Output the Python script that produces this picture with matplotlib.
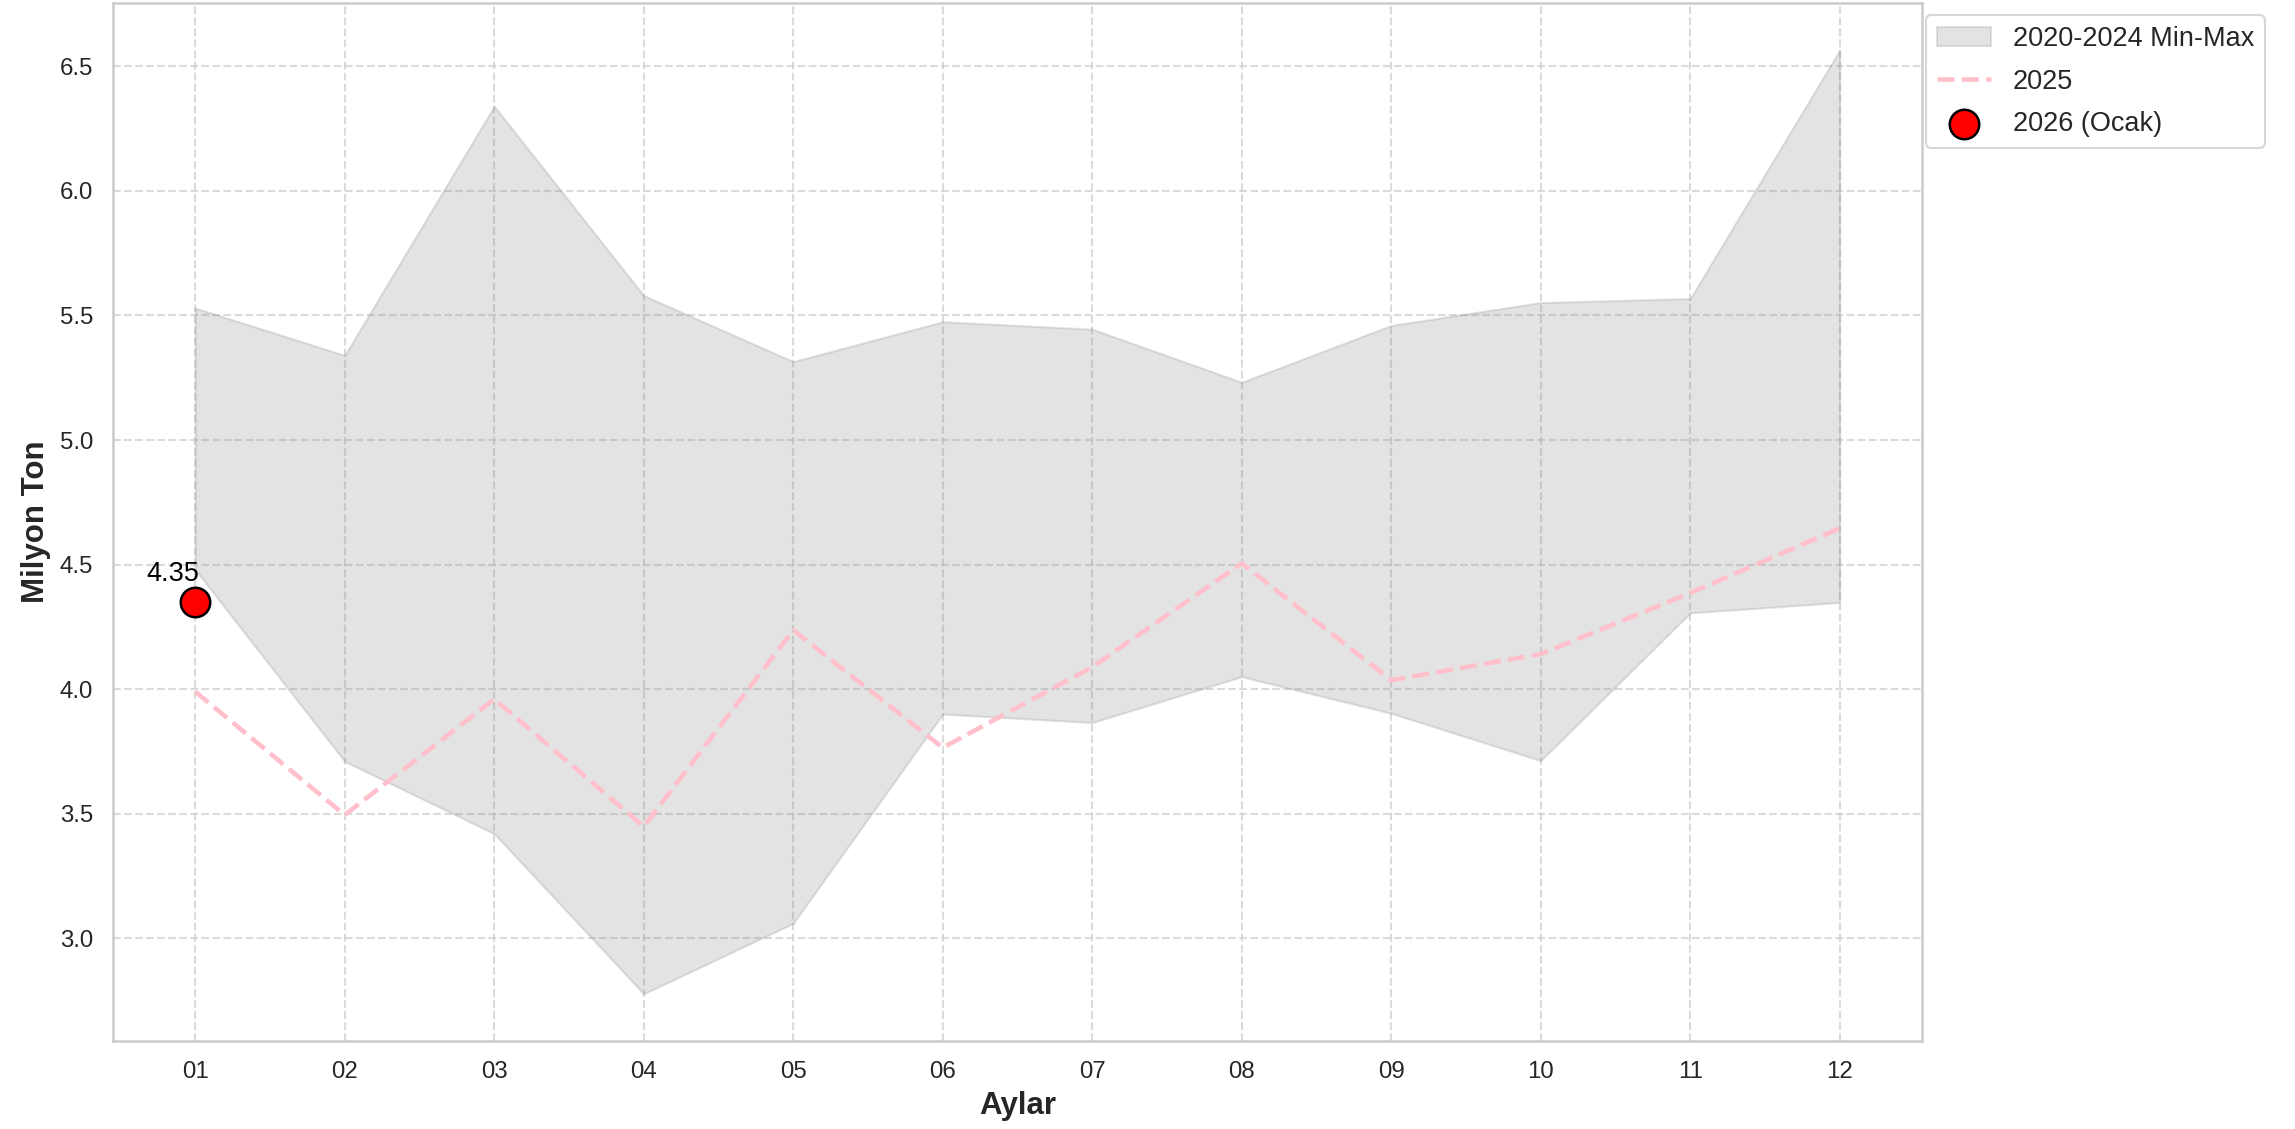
import numpy as np
import matplotlib
matplotlib.use("Agg")
import matplotlib.pyplot as plt
import seaborn as sns

months = ["01", "02", "03", "04", "05", "06", "07", "08", "09", "10", "11", "12"]
band_max = [5.53, 5.34, 6.34, 5.58, 5.315, 5.475, 5.445, 5.232, 5.46, 5.552, 5.568, 6.565]
band_min = [4.48, 3.71, 3.42, 2.777, 3.06, 3.90, 3.866, 4.05, 3.903, 3.713, 4.306, 4.348]
line_2025 = [3.99, 3.495, 3.96, 3.449, 4.237, 3.765, 4.089, 4.505, 4.036, 4.141, 4.386, 4.646]
val_2026 = [4.35]

sns.set_theme(style="whitegrid")
plt.rcParams["font.family"] = ["Liberation Sans", "DejaVu Sans"]

fig = plt.figure(figsize=(2295 / 150, 1129 / 150), dpi=150)
ax = fig.add_axes([113 / 2295, 1 - 1041 / 1129, (1922 - 113) / 2295, (1041 - 3) / 1129])

x = np.arange(len(months))
ax.fill_between(x, band_min, band_max, color="gray", alpha=0.22, label="2020-2024 Min-Max")
ax.plot(x, line_2025, color="pink", linestyle="--", linewidth=2.2, label="2025")
x26 = x[:len(val_2026)]
ax.scatter(x26, val_2026, s=200, color="red", edgecolor="black", linewidth=1.2, zorder=5, label="2026 (Ocak)")
for xi, v in zip(x26, val_2026):
    ax.annotate(f"{v:.2f}", (xi, v), textcoords="offset points", xytext=(2, 10),
                ha="right", fontsize=13, color="black")

ax.set_xticks(x)
ax.set_xticklabels(months)
ax.tick_params(axis="both", labelsize=11.5)
ax.set_xlabel("Aylar", fontsize=15, fontweight="bold")
ax.set_ylabel("Milyon Ton", fontsize=15, fontweight="bold")
ax.grid(True, linestyle="--", alpha=0.7)
for s in ax.spines.values():
    s.set_color("#cccccc")
ax.legend(loc="upper left", bbox_to_anchor=(1.0022, 0.988), fontsize=13, borderaxespad=0,
          labelspacing=0.6)

fig.savefig("out.png", dpi=150)
